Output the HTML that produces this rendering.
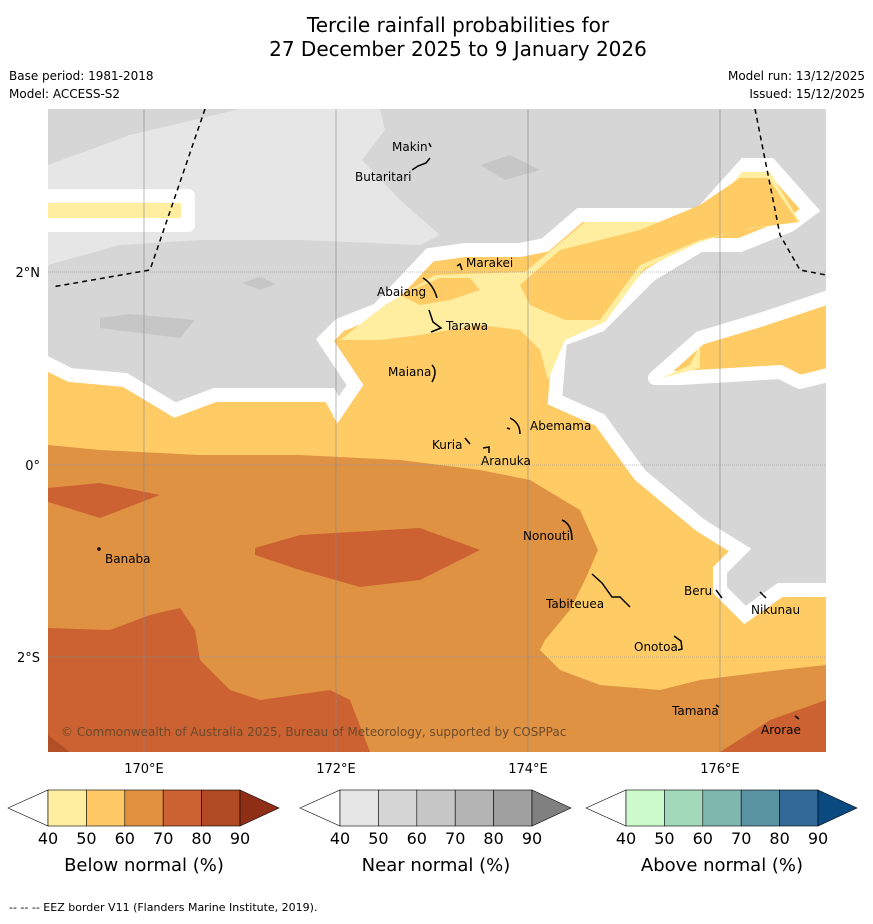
<!DOCTYPE html>
<html><head><meta charset="utf-8"><style>
body{margin:0;background:#fff;font-family:"Liberation Sans",sans-serif;}
svg text{font-family:"DejaVu Sans","Liberation Sans",sans-serif;}
</style></head><body>
<svg width="873" height="919" viewBox="0 0 873 919">
<text x="458" y="32" font-size="20" text-anchor="middle">Tercile rainfall probabilities for</text>
<text x="458" y="56" font-size="20" text-anchor="middle">27 December 2025 to 9 January 2026</text>
<text x="9" y="80" font-size="12">Base period: 1981-2018</text>
<text x="9" y="98" font-size="12">Model: ACCESS-S2</text>
<text x="865" y="80" font-size="12" text-anchor="end">Model run: 13/12/2025</text>
<text x="865" y="98" font-size="12" text-anchor="end">Issued: 15/12/2025</text>
<defs><clipPath id="mc"><rect x="48" y="109" width="778" height="643"/></clipPath></defs>
<g clip-path="url(#mc)">
<rect x="48" y="109" width="778" height="643" fill="#d6d6d6"/>
<polygon fill="#e6e6e6" points="48,165 130,135 240,109 380,109 385,130 362,160 400,200 440,235 420,245 300,240 200,240 120,245 48,265"/>
<polygon fill="#c6c6c6" points="480,165 510,155 540,170 505,180"/>
<polygon fill="#c6c6c6" points="100,318 130,314 195,320 180,338 100,328"/>
<polygon fill="#c6c6c6" points="242,283 260,277 276,284 260,290"/>
<polygon fill="#ffeda0" stroke="#fff" stroke-width="14" stroke-linejoin="round" points="30,196 188,196 188,225 30,225"/>
<polygon fill="#fecb65" stroke="#fff" stroke-width="14" points="30,355 70,375 125,380 175,410 215,395 330,395 338,410 355,385 325,340 340,325 378,310 430,255 465,250 520,250 545,245 580,215 700,215 745,165 770,165 810,210 790,225 740,245 700,245 650,275 600,325 560,340 555,400 600,420 640,475 700,525 740,550 720,570 720,590 745,615 780,590 845,590 845,770 30,770"/>
<polygon fill="#ffeda0" points="340,340 385,305 435,275 525,272 585,222 700,222 742,172 770,172 800,222 740,230 700,242 645,268 605,322 565,340 548,380 540,350 520,330 480,325 420,335 380,340"/>
<polygon fill="#fecb65" points="520,285 560,250 640,230 700,205 740,178 768,178 798,222 750,228 700,240 640,265 600,320 565,320 530,305"/>
<polygon fill="#fecb65" points="400,295 440,278 470,278 480,290 450,300 420,305"/>
<polygon fill="#fecb65" stroke="#fff" stroke-width="14" stroke-linejoin="round" points="655,378 700,338 760,320 826,298 840,298 840,372 800,382 780,372 680,378"/>
<polygon fill="#ffeda0" points="662,378 700,368 700,345 690,365"/>
<polygon fill="#e09243" points="48,445 100,450 200,455 300,455 400,460 480,470 530,480 580,510 598,550 585,580 570,610 545,640 540,650 560,670 600,685 660,690 700,680 780,670 826,665 826,752 48,752"/>
<polygon fill="#cc6232" points="48,488 100,483 160,495 100,518 48,502"/>
<polygon fill="#cc6232" points="255,548 300,535 420,528 480,550 420,580 360,587 300,570 255,555"/>
<polygon fill="#cc6232" points="48,628 110,630 150,615 180,608 195,630 200,660 230,690 260,700 330,690 350,700 370,752 48,752"/>
<polygon fill="#cc6232" points="720,752 770,720 826,700 826,752"/>
<polygon fill="#b34f27" points="48,735 70,752 48,752"/>
<g stroke="#888" stroke-width="0.6">
<line x1="144" y1="109" x2="144" y2="752"/><line x1="336" y1="109" x2="336" y2="752"/><line x1="528" y1="109" x2="528" y2="752"/><line x1="720" y1="109" x2="720" y2="752"/>
<line x1="48" y1="272" x2="826" y2="272" stroke-dasharray="1,1"/><line x1="48" y1="465" x2="826" y2="465" stroke-dasharray="1,1"/><line x1="48" y1="657" x2="826" y2="657" stroke-dasharray="1,1"/>
</g>
<g fill="none" stroke="#000" stroke-width="1.5" stroke-dasharray="5,4">
<polyline points="205,109 150,270 52,287"/><polyline points="755,109 780,235 800,270 826,275"/>
</g>
<g fill="none" stroke="#000" stroke-width="1.5">
<path d="M429,143 l2,4"/><path d="M430,158 l-4,5 -8,3 -6,4"/><path d="M457,266 l3,-2 2,6"/><path d="M423,278 q10,6 14,20"/><path d="M429,310 l4,12 8,6 -10,4"/><path d="M432,365 q6,6 0,17"/><path d="M510,418 q10,5 10,16 M507,428 l3,1"/><path d="M465,438 l5,6 M483,448 l6,-1 0,6"/><path d="M562,520 q10,4 10,20"/><path d="M592,574 l10,9 10,14 8,0 10,10"/><path d="M716,590 l6,8"/><path d="M674,636 l7,5 1,8 -4,1"/><path d="M760,592 l6,6"/><path d="M716,705 l3,2"/><path d="M795,716 l4,3"/><circle cx="99" cy="549" r="1"/>
</g>
<g font-size="12">
<text x="392" y="151">Makin</text><text x="355" y="181">Butaritari</text><text x="466" y="267">Marakei</text><text x="377" y="296">Abaiang</text><text x="446" y="330">Tarawa</text><text x="388" y="376">Maiana</text><text x="530" y="430">Abemama</text><text x="432" y="449">Kuria</text><text x="481" y="465">Aranuka</text><text x="523" y="540">Nonouti</text><text x="105" y="563">Banaba</text><text x="684" y="595">Beru</text><text x="546" y="608">Tabiteuea</text><text x="751" y="614">Nikunau</text><text x="634" y="651">Onotoa</text><text x="672" y="715">Tamana</text><text x="761" y="734">Arorae</text>
</g>
<text x="61" y="736" font-size="12" fill="#6b4a2a">© Commonwealth of Australia 2025, Bureau of Meteorology, supported by COSPPac</text>
</g>
<g font-size="13" text-anchor="middle">
<text x="144" y="773">170°E</text><text x="336" y="773">172°E</text><text x="528" y="773">174°E</text><text x="720" y="773">176°E</text>
</g>
<g font-size="13" text-anchor="end">
<text x="40" y="277">2°N</text><text x="40" y="470">0°</text><text x="40" y="662">2°S</text>
</g>
<g id="cbs"></g>
<text x="9" y="911" font-size="11">-- -- -- EEZ border V11 (Flanders Marine Institute, 2019).</text>
<script>
const cbTitles=["Below normal (%)","Near normal (%)","Above normal (%)"];
const cbLabels=[40,50,60,70,80,90];
const cbColors=[["#ffeda0","#fec965","#e0913f","#cc6131","#b04a25","#8e2e16"],["#e6e6e6","#d6d6d6","#c6c6c6","#b4b4b4","#a0a0a0","#808080"],["#ccfacc","#a3d9bb","#7fb6ad","#5a93a2","#306898","#0b4a80"]];
const cbX=[8,300,586];
const g=document.getElementById('cbs');
const NS="http://www.w3.org/2000/svg";
cbX.forEach((x0,i)=>{
 const grp=document.createElementNS(NS,'g');
 
 
 const y0=790,h=36,L=x0+40,w=38.4;
 const tl=document.createElementNS(NS,'polygon');
 tl.setAttribute('points',`${x0},${y0+h/2} ${L},${y0} ${L},${y0+h}`);
 tl.setAttribute('fill','#fff');tl.setAttribute('stroke','#000');tl.setAttribute('stroke-width','0.6');
 grp.appendChild(tl);
 for(let k=0;k<5;k++){
  const r=document.createElementNS(NS,'rect');
  r.setAttribute('x',L+k*w);r.setAttribute('y',y0);r.setAttribute('width',w);r.setAttribute('height',h);
  r.setAttribute('fill',cbColors[i][k]);r.setAttribute('stroke','#000');r.setAttribute('stroke-width','0.6');
  grp.appendChild(r);
 }
 const R=L+5*w;
 const tr=document.createElementNS(NS,'polygon');
 tr.setAttribute('points',`${R},${y0} ${R+39},${y0+h/2} ${R},${y0+h}`);
 tr.setAttribute('fill',cbColors[i][5]);tr.setAttribute('stroke','#000');tr.setAttribute('stroke-width','0.6');
 grp.appendChild(tr);
 cbLabels.forEach((v,k)=>{
  const t=document.createElementNS(NS,'text');
  
  
  t.setAttribute('x',L+k*w);t.setAttribute('y',844);t.setAttribute('font-size','16');t.setAttribute('text-anchor','middle');
  t.textContent=v;grp.appendChild(t);
 });
 const tt=document.createElementNS(NS,'text');
 
 
 tt.setAttribute('x',L+2.5*w);tt.setAttribute('y',871);tt.setAttribute('font-size','18');tt.setAttribute('text-anchor','middle');
 tt.textContent=cbTitles[i];grp.appendChild(tt);
 g.appendChild(grp);
});
</script>
</svg>
</body></html>
